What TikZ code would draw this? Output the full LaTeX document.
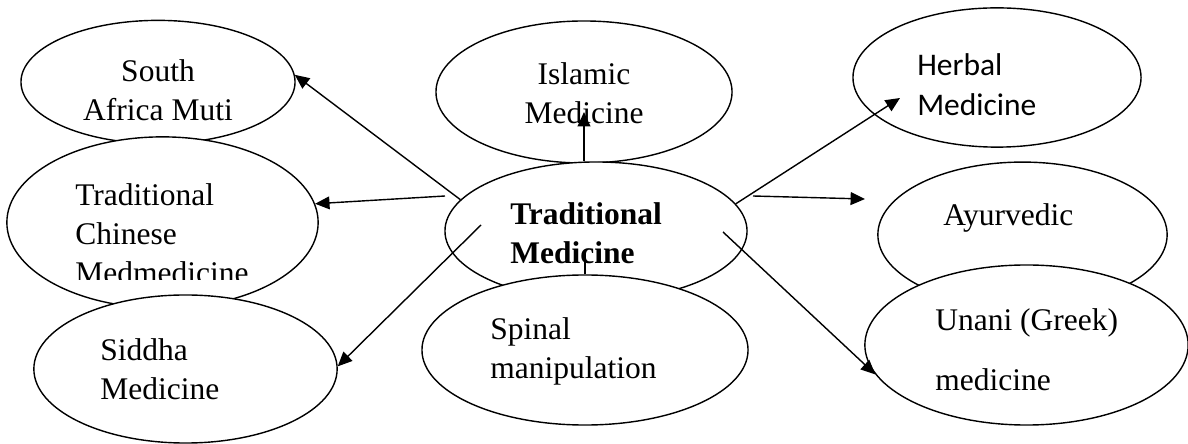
\documentclass[tikz,border=0pt]{standalone}
\usepackage{fontspec}
\setmainfont{Liberation Serif}
\newfontfamily\herbalfont{Carlito}
\usetikzlibrary{calc, arrows.meta, shapes.geometric}

\begin{document}
\begin{tikzpicture}[x=0.025cm, y=-0.025cm]
    \fill[white] (0,0) rectangle (1188,444);
    \useasboundingbox (0,0) rectangle (1188,444);
    \begin{scope}[
        oval/.style={ellipse, draw=black, line width=1pt, fill=white, inner sep=0pt},
        ovaltext/.style={inner sep=0pt, align=left, anchor=north west, font=\fontsize{22.4}{27.7}\selectfont},
        arrow/.style={-{Triangle[length=0.36cm, width=0.32cm]}, line width=1pt}
    ]
        % ================= LEFT: South Africa, Chinese, Siddha =================
        \node[oval, minimum width=6.85cm, minimum height=3.08cm] (sa) at (158,82) {};
        \node[ovaltext, align=center, anchor=north] (sa-txt) at (158,59) {South\\Africa Muti};
        \node[oval, minimum width=7.78cm, minimum height=4.28cm] (tcm) at (162.5,222.5) {};
        \begin{scope}
            \clip (0,0) rectangle (330,280);
            \node[ovaltext] (tcm-txt) at (75,183) {Traditional\\Chinese\\Medmedicine};
        \end{scope}
        \node[oval, minimum width=7.58cm, minimum height=3.7cm] (sid) at (185.5,369) {};
        \node[ovaltext] (sid-txt) at (100,338) {Siddha\\Medicine};

        % ================= MIDDLE: Islamic, Traditional, Spinal =================
        \node[oval, minimum width=7.4cm, minimum height=3.55cm] (isl) at (584,92) {};
        \node[ovaltext, align=center, anchor=north] (isl-txt) at (584,62) {Islamic\\Medicine};
        \node[oval, minimum width=7.55cm, minimum height=3.45cm] (tm) at (596,231) {};
        \node[ovaltext, font=\fontsize{22.4}{27.7}\selectfont\bfseries] (tm-txt) at (510,202) {Traditional\\Medicine};
        \node[oval, minimum width=8.15cm, minimum height=3.75cm] (sp) at (585,350) {};
        \node[ovaltext] (sp-txt) at (490,317) {Spinal\\manipulation};

        % ================= RIGHT: Herbal, Ayurvedic, Unani =================
        \node[oval, minimum width=7.2cm, minimum height=3.48cm] (hm) at (997,77.5) {};
        \node[ovaltext, font=\fontsize{22.4}{28.4}\selectfont\herbalfont] (hm-txt) at (917,53) {Herbal\\Medicine};
        \node[oval, minimum width=7.23cm, minimum height=3.63cm] (ayu) at (1022.5,234.7) {};
        \node[ovaltext] (ayu-txt) at (943,203) {Ayurvedic};
        \node[oval, minimum width=8.08cm, minimum height=4cm] (un) at (1026.5,345) {};
        \node[ovaltext] (un-txt) at (935,308) {Unani (Greek)\\[15pt]medicine};

        % ================= ARROWS =================
        \draw[arrow] (tm.167) -- (sa.3);
        \draw[arrow] ($(tm)+(-151,-35)$) -- (tcm.7);
        \draw[arrow] ($(tm)+(-115,-6)$) -- (sid.1);
        \draw[arrow] (isl |- tm.north) -- ($(isl)+(0,20)$);
        \draw[line width=1pt] (sp.north) -- ($(sp.north)+(0,-22)$);
        \draw[arrow] (tm.11) -- ($(hm)+(-97,20.5)$);
        \draw[arrow] ($(tm)+(157,-35)$) -- ($(ayu)+(-157.5,-35.7)$);
        \draw[arrow] ($(tm)+(127,1)$) -- (un.191);
    \end{scope}
\end{tikzpicture}
\end{document}
